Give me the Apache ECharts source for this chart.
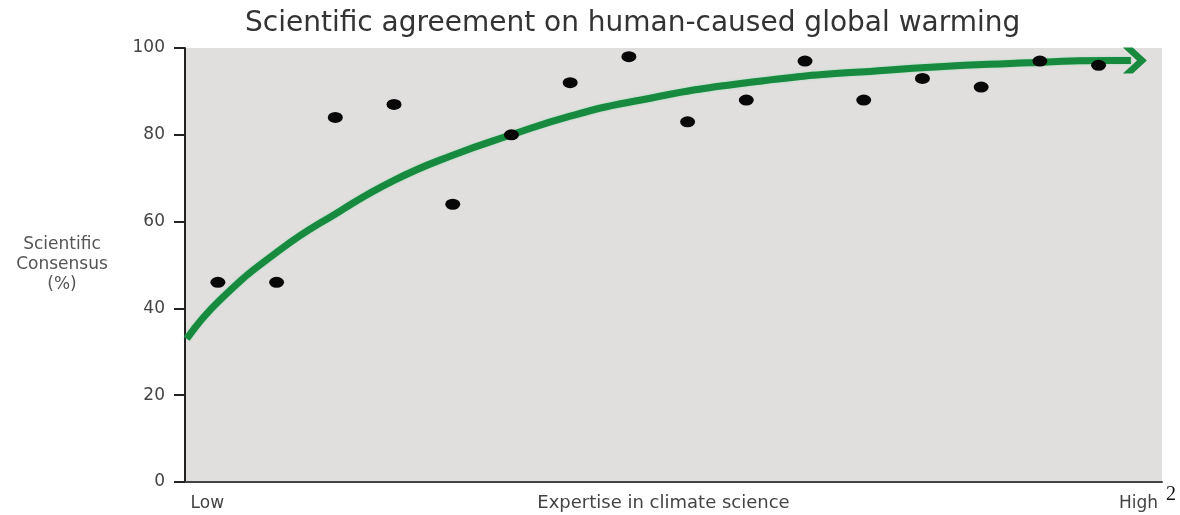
<!DOCTYPE html>
<html>
<head>
<meta charset="utf-8">
<script src="https://cdn.jsdelivr.net/npm/echarts@6/dist/echarts.min.js"></script>
<style>html,body{margin:0;padding:0;background:#fff}#c{width:1180px;height:515px}</style>
</head>
<body>
<div id="c"></div>
<script>
// Expertise index (1 = lowest expertise group, 16 = highest)
const expertise = [1, 2, 3, 4, 5, 6, 7, 8, 9, 10, 11, 12, 13, 14, 15, 16];
// Scientific consensus (%) for each group
const consensus = [46, 46, 84, 87, 64, 80, 92, 98, 83, 88, 97, 88, 93, 91, 97, 96];
// Trend curve (expertise position, consensus %)
const trendX = [0.47, 1.04, 2.06, 3.03, 4.0, 5.0, 6.0, 7.0, 8.0, 9.94, 12.38, 14.81, 16.26, 16.55];
const trendY = [33, 42, 53.5, 62, 69.5, 75.3, 80, 84.3, 87.5, 91.9, 94.9, 96.6, 97.1, 97.1];
const yTicks = [0, 20, 40, 60, 80, 100];
const xEnds = ['Low', 'High'];

const chart = echarts.init(document.getElementById('c'), null, {renderer: 'canvas'});
const FONT = 'DejaVu Sans';
const trend = trendX.map((x, i) => [x, trendY[i]]);
const last = trend[trend.length - 1];

chart.setOption({
  animation: false,
  backgroundColor: '#ffffff',
  title: {
    text: 'Scientific agreement on human-caused global warming',
    left: 240, top: 5,
    textStyle: {fontFamily: FONT, fontSize: 28, fontWeight: 'normal', color: '#333'}
  },
  grid: {left: 185, right: 18, top: 48, bottom: 33, show: true, backgroundColor: '#e1dede', borderWidth: 0, outerBoundsMode: 'none', containLabel: false},
  xAxis: {
    type: 'value', min: 0.44, max: 17.08,
    name: 'Expertise in climate science', nameLocation: 'middle', nameGap: 12, nameMoveOverlap: false,
    nameTextStyle: {fontFamily: FONT, fontSize: 18, color: '#444', padding: [0, 20, 0, 0]},
    axisLine: {show: true, lineStyle: {color: '#444', width: 2}},
    axisTick: {show: false},
    splitLine: {show: false},
    axisLabel: {
      customValues: [0.82, 16.68],
      formatter: v => (v < 5 ? xEnds[0] : xEnds[1]),
      fontFamily: FONT, fontSize: 17, color: '#444', margin: 13
    }
  },
  yAxis: {
    type: 'value', min: yTicks[0], max: yTicks[yTicks.length - 1], interval: 20,
    name: 'Scientific\nConsensus\n(%)', nameLocation: 'middle', nameRotate: 0, nameGap: 123, nameMoveOverlap: false,
    nameTextStyle: {fontFamily: FONT, fontSize: 17, color: '#555', align: 'center', verticalAlign: 'middle', lineHeight: 20,
      padding: [16, 0, 0, 0], backgroundColor: 'rgba(255,255,255,0)'},
    axisLine: {show: true, lineStyle: {color: '#222', width: 2}},
    axisTick: {show: true, length: 11, lineStyle: {color: '#222', width: 2}},
    splitLine: {show: false},
    axisLabel: {fontFamily: FONT, fontSize: 17, color: '#444', margin: 20}
  },
  graphic: [{
    type: 'text', right: 4, top: 485,
    style: {text: '2', font: '20px "Liberation Serif"', fill: '#111'}
  }],
  series: [
    {
      type: 'line', data: trend, smooth: 0.5, showSymbol: false, symbol: 'none',
      lineStyle: {color: '#178a3f', width: 7, shadowColor: 'rgba(90,220,140,0.6)', shadowBlur: 2}, z: 2
    },
    {
      type: 'scatter', data: [last], z: 3,
      symbol: 'path://M0,0 L7,0 L17,10 L7,20 L0,20 L10,10 Z',
      symbolSize: [24, 26], symbolOffset: [4, 0],
      itemStyle: {color: '#178a3f', opacity: 1}
    },
    {
      type: 'scatter', data: expertise.map((x, i) => [x, consensus[i]]), z: 4,
      symbol: 'circle', symbolSize: [15, 11], itemStyle: {color: '#080808', opacity: 1}
    }
  ]
});
</script>
</body>
</html>
